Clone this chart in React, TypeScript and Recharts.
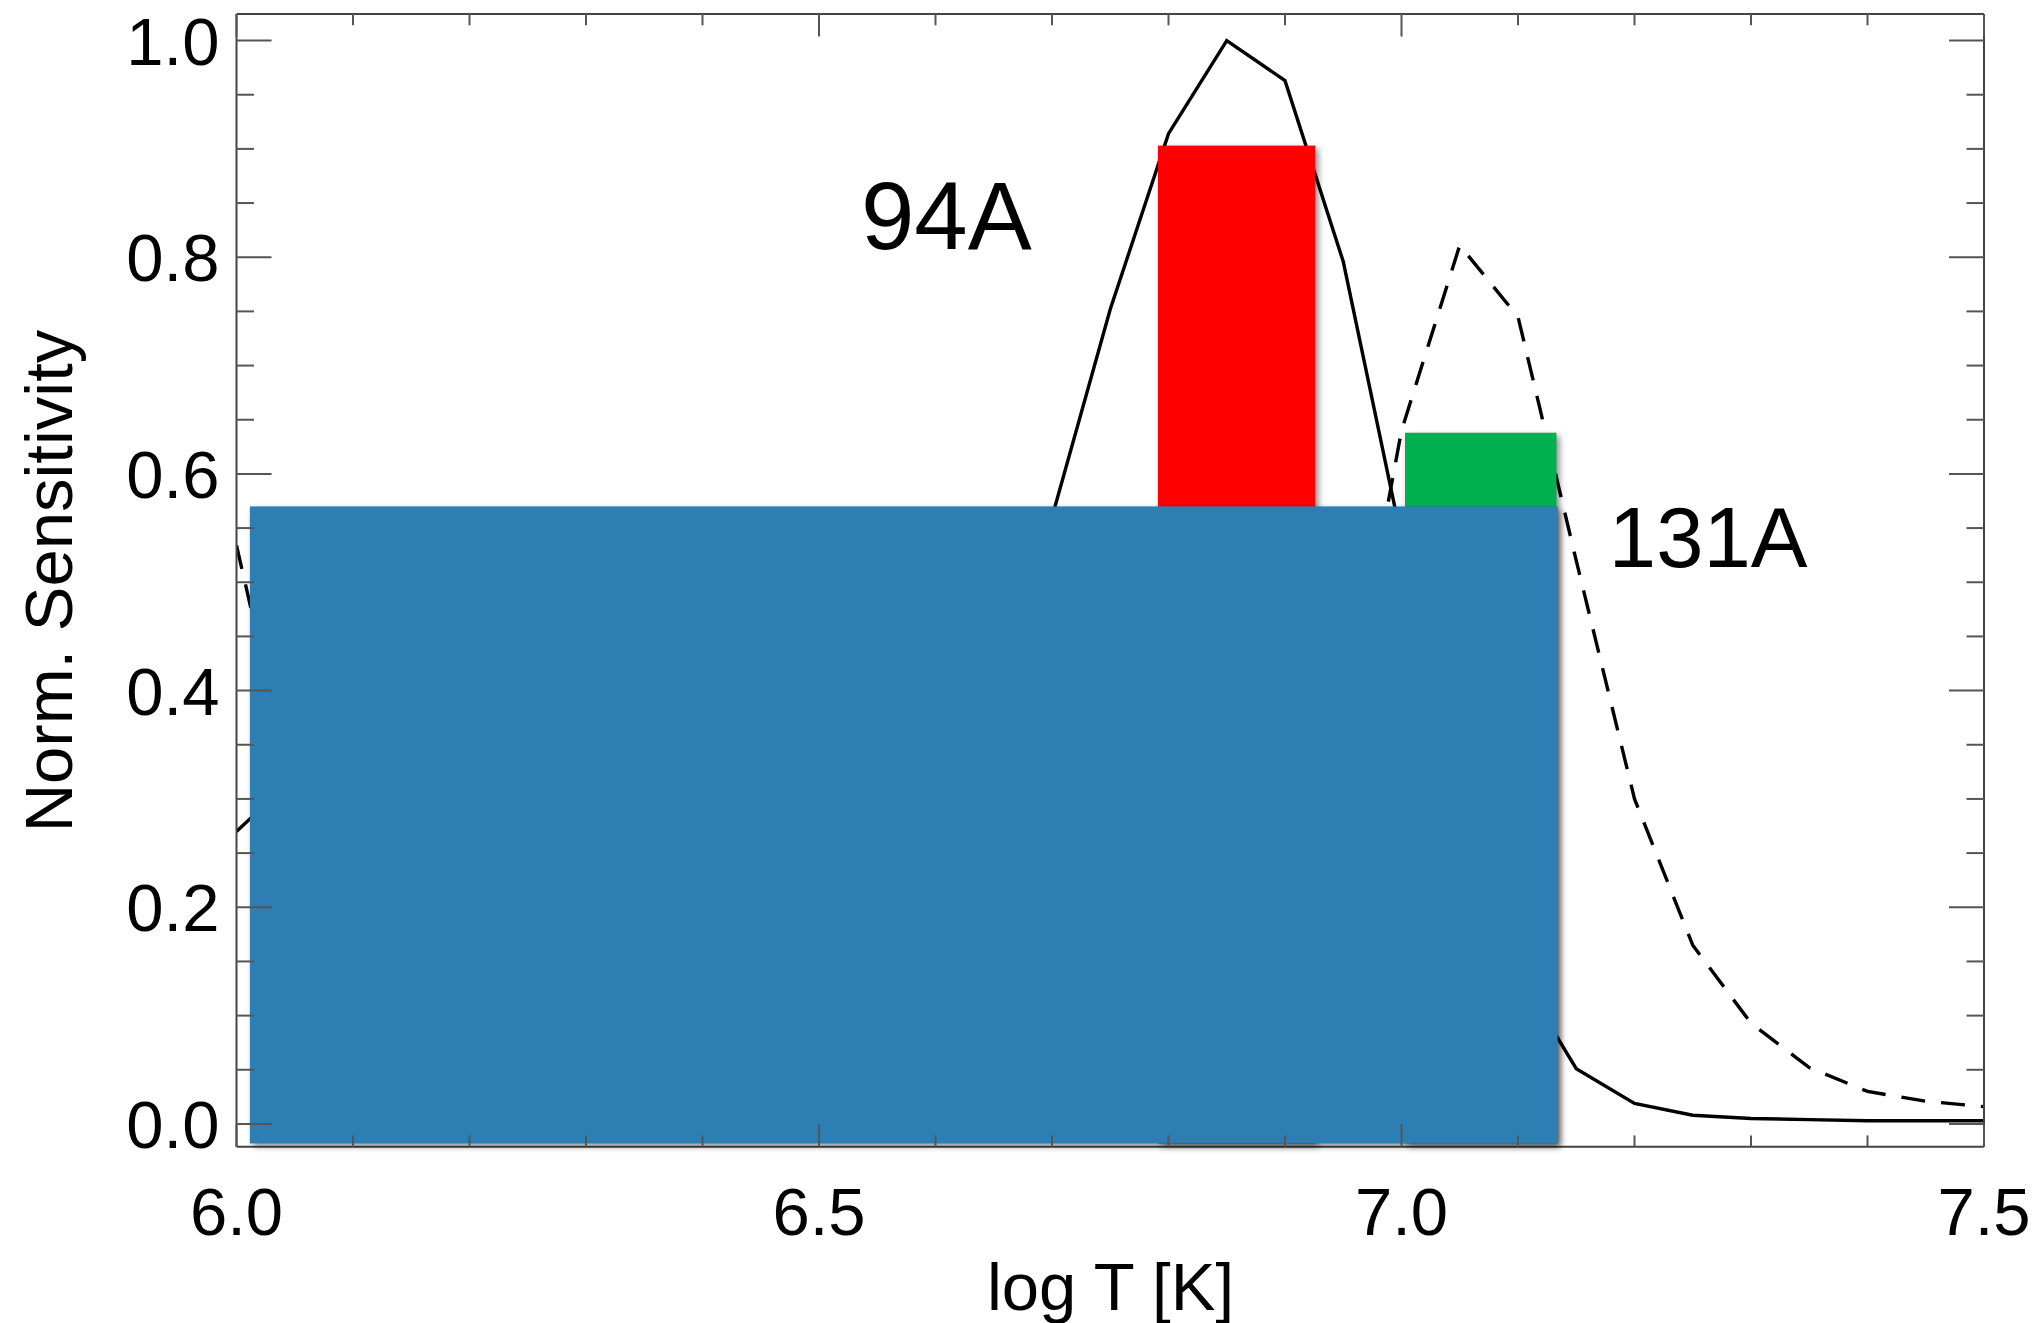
import React from "react";
import {
  LineChart,
  Line,
  XAxis,
  YAxis,
  ReferenceArea,
  ReferenceDot,
} from "recharts";

// temperature grid and normalised channel responses
const logT = [
  6.0, 6.05, 6.1, 6.15, 6.2, 6.25, 6.3, 6.35, 6.4, 6.45, 6.5, 6.55, 6.6, 6.65,
  6.7, 6.75, 6.8, 6.85, 6.9, 6.95, 7.0, 7.05, 7.1, 7.15, 7.2, 7.25, 7.3, 7.35,
  7.4, 7.45, 7.5,
];
const sens94 = [
  0.27, 0.32, 0.33, 0.3, 0.24, 0.17, 0.11, 0.07, 0.05, 0.04, 0.04, 0.06, 0.12,
  0.28, 0.56, 0.752, 0.914, 1.0, 0.963, 0.796, 0.54, 0.3, 0.14, 0.051, 0.019,
  0.008, 0.005, 0.004, 0.003, 0.003, 0.003,
];
const sens131 = [
  0.534, 0.3, 0.16, 0.08, 0.04, 0.02, 0.012, 0.01, 0.01, 0.01, 0.01, 0.012,
  0.02, 0.04, 0.06, 0.09, 0.13, 0.18, 0.25, 0.35, 0.64, 0.811, 0.745, 0.52,
  0.3, 0.165, 0.093, 0.052, 0.03, 0.021, 0.016,
];

const xTicks = [
  6.0, 6.1, 6.2, 6.3, 6.4, 6.5, 6.6, 6.7, 6.8, 6.9, 7.0, 7.1, 7.2, 7.3, 7.4, 7.5,
];
const xMajor = [6.0, 6.5, 7.0, 7.5];
const yTicks = [
  0, 0.05, 0.1, 0.15, 0.2, 0.25, 0.3, 0.35, 0.4, 0.45, 0.5, 0.55, 0.6, 0.65,
  0.7, 0.75, 0.8, 0.85, 0.9, 0.95, 1.0,
];
const yMajor = [0, 0.2, 0.4, 0.6, 0.8, 1.0];

// overlay boxes: [x1, x2, y1, y2] in data units
const box94 = [6.791, 6.926, -0.018, 0.903];
const box131 = [7.003, 7.133, -0.018, 0.638];
const boxCover = [6.0115, 7.134, -0.018, 0.57];

// channel annotations: [logT, value, text, font size]
const labels: [number, number, string, number][] = [
  [6.536, 0.808, "94A", 96],
  [7.178, 0.514, "131A", 85],
];

const FONT = '"Liberation Sans", Arial, Helvetica, sans-serif';
const TICK_COLOR = "#555";
const X_MAJOR_LEN = 22.6;
const Y_MAJOR_LEN = 35;

const isIn = (list: number[], v: number) =>
  list.some((m) => Math.abs(m - v) < 1e-6);

function BottomTick(props: any) {
  const { x, y, payload } = props;
  const major = isIn(xMajor, payload.value);
  return (
    <g>
      <line
        x1={x}
        x2={x}
        y1={y}
        y2={y - (major ? X_MAJOR_LEN : X_MAJOR_LEN / 2)}
        stroke={TICK_COLOR}
        strokeWidth={2}
      />
      {major && (
        <text
          x={x}
          y={y + 88}
          textAnchor="middle"
          fontSize={67}
          fontFamily={FONT}
          fill="#000"
        >
          {payload.value.toFixed(1)}
        </text>
      )}
    </g>
  );
}

function TopTick(props: any) {
  const { x, y, payload } = props;
  const major = isIn(xMajor, payload.value);
  return (
    <line
      x1={x}
      x2={x}
      y1={y}
      y2={y + (major ? X_MAJOR_LEN : X_MAJOR_LEN / 2)}
      stroke={TICK_COLOR}
      strokeWidth={2}
    />
  );
}

function LeftTick(props: any) {
  const { x, y, payload } = props;
  const major = isIn(yMajor, payload.value);
  return (
    <g>
      <line
        x1={x}
        x2={x + (major ? Y_MAJOR_LEN : Y_MAJOR_LEN / 2)}
        y1={y}
        y2={y}
        stroke={TICK_COLOR}
        strokeWidth={2}
      />
      {major && (
        <text
          x={x - 17}
          y={y + 24}
          textAnchor="end"
          fontSize={67}
          fontFamily={FONT}
          fill="#000"
        >
          {payload.value.toFixed(1)}
        </text>
      )}
    </g>
  );
}

function RightTick(props: any) {
  const { x, y, payload } = props;
  const major = isIn(yMajor, payload.value);
  return (
    <line
      x1={x}
      x2={x - (major ? Y_MAJOR_LEN : Y_MAJOR_LEN / 2)}
      y1={y}
      y2={y}
      stroke={TICK_COLOR}
      strokeWidth={2}
    />
  );
}

function ShadowBox(fill: string) {
  return (props: any) => (
    <rect
      x={props.x}
      y={props.y}
      width={props.width}
      height={props.height}
      fill={fill}
      style={{ filter: "drop-shadow(3px 3px 3px rgba(0,0,0,0.45))" }}
    />
  );
}

function TextMark(text: string, size: number) {
  return (props: any) => {
    const vb = props.viewBox || {};
    return (
      <text
        x={vb.x}
        y={vb.y}
        fontSize={size}
        fontFamily={FONT}
        fill="#000"
        textAnchor="start"
      >
        {text}
      </text>
    );
  };
}

const axisLine = { stroke: "#444", strokeWidth: 2 };

export default function App() {
  const data = logT.map((t, i) => ({
    logT: t,
    a94: sens94[i],
    a131: sens131[i],
  }));

  return (
    <div
      style={{
        position: "fixed",
        left: 0,
        top: 0,
        width: 2040,
        height: 1323,
        background: "#fff",
      }}
    >
      <LineChart
        width={2040}
        height={1323}
        data={data}
        margin={{ top: 13, right: 55, bottom: 0, left: 0 }}
      >
        <XAxis
          dataKey="logT"
          type="number"
          domain={[6, 7.5]}
          allowDataOverflow
          ticks={xTicks}
          interval={0}
          tickSize={0}
          tickMargin={0}
          height={176.3}
          axisLine={axisLine}
          tickLine={false}
          tick={BottomTick}
          label={{
            content: () => (
              <text
                x={1110.5}
                y={1310}
                textAnchor="middle"
                fontSize={67}
                fontFamily={FONT}
                fill="#000"
              >
                log T [K]
              </text>
            ),
          }}
        />
        <XAxis
          xAxisId="top"
          orientation="top"
          dataKey="logT"
          type="number"
          domain={[6, 7.5]}
          allowDataOverflow
          ticks={xTicks}
          interval={0}
          tickSize={0}
          tickMargin={0}
          height={1}
          axisLine={axisLine}
          tickLine={false}
          tick={TopTick}
        />
        <YAxis
          type="number"
          domain={[-0.021, 1.0245]}
          allowDataOverflow
          ticks={yTicks}
          interval={0}
          tickSize={0}
          tickMargin={0}
          width={236.5}
          axisLine={axisLine}
          tickLine={false}
          tick={LeftTick}
          label={{
            content: () => (
              <text
                x={72}
                y={581}
                transform="rotate(-90 72 581)"
                textAnchor="middle"
                fontSize={67}
                fontFamily={FONT}
                fill="#000"
              >
                Norm. Sensitivity
              </text>
            ),
          }}
        />
        <YAxis
          yAxisId="right"
          orientation="right"
          type="number"
          domain={[-0.021, 1.0245]}
          allowDataOverflow
          ticks={yTicks}
          interval={0}
          tickSize={0}
          tickMargin={0}
          width={1}
          axisLine={axisLine}
          tickLine={false}
          tick={RightTick}
        />

        {/* invisible series so the mirrored top/right axes get a domain */}
        <Line
          xAxisId="top"
          yAxisId="right"
          dataKey="a94"
          type="linear"
          stroke="none"
          dot={false}
          activeDot={false}
          legendType="none"
          isAnimationActive={false}
        />
        <Line
          dataKey="a94"
          type="linear"
          stroke="#000"
          strokeWidth={3.4}
          dot={false}
          activeDot={false}
          isAnimationActive={false}
        />
        <Line
          dataKey="a131"
          type="linear"
          stroke="#000"
          strokeWidth={3.4}
          strokeDasharray="24 16"
          dot={false}
          activeDot={false}
          isAnimationActive={false}
        />

        <ReferenceArea
          x1={box94[0]}
          x2={box94[1]}
          y1={box94[2]}
          y2={box94[3]}
          shape={ShadowBox("#ff0000")}
          zIndex={600}
          ifOverflow="visible"
        />
        <ReferenceArea
          x1={box131[0]}
          x2={box131[1]}
          y1={box131[2]}
          y2={box131[3]}
          shape={ShadowBox("#00b050")}
          zIndex={600}
          ifOverflow="visible"
        />
        <ReferenceArea
          x1={boxCover[0]}
          x2={boxCover[1]}
          y1={boxCover[2]}
          y2={boxCover[3]}
          shape={ShadowBox("#2d7fb3")}
          zIndex={610}
          ifOverflow="visible"
        />

        {labels.map(([x, y, text, size]) => (
          <ReferenceDot
            key={text}
            x={x}
            y={y}
            r={0}
            fill="none"
            stroke="none"
            ifOverflow="visible"
            label={{ content: TextMark(text, size) }}
          />
        ))}
      </LineChart>
    </div>
  );
}
